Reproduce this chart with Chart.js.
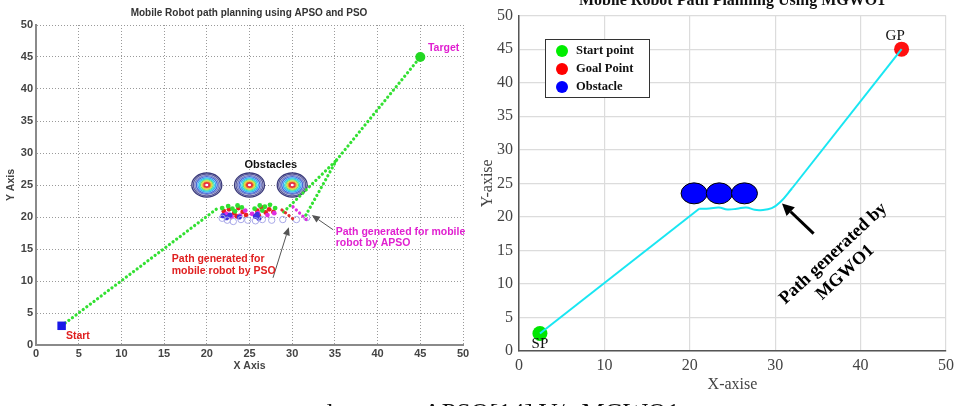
<!DOCTYPE html>
<html><head><meta charset="utf-8">
<script src="https://cdn.jsdelivr.net/npm/chart.js@4.4.1/dist/chart.umd.min.js"></script>
<style>
html,body{margin:0;padding:0;background:#fff;}
#wrap{position:relative;width:959px;height:406px;overflow:hidden;background:#fff;}
#c1{position:absolute;left:0;top:0;}
#c2{position:absolute;left:480px;top:0;}
.cap{position:absolute;top:399.5px;font-family:'Liberation Serif','Times New Roman',serif;font-size:26px;line-height:26px;color:#111;white-space:nowrap;}
</style></head>
<body>
<div id="wrap">
<canvas id="c1" width="480" height="406"></canvas>
<canvas id="c2" width="479" height="406"></canvas>
<div class="cap" style="right:626px;">and</div>
<div class="cap" style="left:423px;">APSO[14] V/s MGWO1</div>
</div>
<script>
// ================= LEFT CHART DATA (APSO and PSO) =================
const leftTitle = 'Mobile Robot path planning using APSO and PSO';
const leftXTicks = [0,5,10,15,20,25,30,35,40,45,50];
const leftYTicks = [0,5,10,15,20,25,30,35,40,45,50];
const startX = [3], startY = [3];
const targetX = [45], targetY = [45];
const leadPathX = [3, 21.4], leadPathY = [3, 21.5];
const strandAX = [29.0, 35.2], strandAY = [20.8, 28.9];
const strandBX = [31.6, 35.2], strandBY = [20.3, 28.9];
const finalPathX = [35.2, 45], finalPathY = [28.9, 45];
const psoTailX = [28.8, 30.3], psoTailY = [21.1, 19.5];
const apsoTailX = [30.1, 31.9], apsoTailY = [21.6, 19.3];
const greenCX = [21.8,22.5,23.0,23.6,24.1,25.6,26.2,26.8,27.4,28.0,23.3,26.5];
const greenCY = [21.4,21.7,21.3,21.8,21.5,21.3,21.8,21.6,21.9,21.4,20.9,21.0];
const redX = [22.0,22.6,23.2,23.7,24.2,24.6,25.9,26.4,26.9,27.3,27.8,23.5,26.1];
const redY = [20.9,21.2,20.6,21.4,20.8,20.3,21.0,21.5,20.7,21.2,20.8,20.1,20.2];
const magX = [22.3,23.9,24.5,25.3,27.1,27.9,22.9,26.0];
const magY = [20.5,20.2,21.0,20.5,20.3,20.6,20.0,20.6];
const blueX = [21.9,22.3,22.7,25.7,26.1,25.9,23.8];
const blueY = [20.2,19.9,20.3,20.1,19.8,20.4,20.0];
const lavX = [21.8,22.4,23.1,24.0,24.8,25.7,26.5,27.6,28.9,30.5,31.7];
const lavY = [19.8,19.5,19.3,19.6,19.5,19.4,19.6,19.5,19.6,19.6,19.9];
const leftObsX = [20, 25, 30], leftObsY = [25, 25, 25];
// annotation anchors (data units)
const leftLabels = [
  {text:'Obstacles', x:27.5, y:28.1, color:'#111', align:'center'},
  {text:'Start', x:3.5, y:1.4, color:'#e02020', align:'left'},
  {text:'Target', x:45.9, y:46.4, color:'#e020d0', align:'left'},
  {text:'Path generated for', x:15.9, y:13.4, color:'#e02020', align:'left'},
  {text:'mobile robot by PSO', x:15.9, y:11.6, color:'#e02020', align:'left'},
  {text:'Path generated for mobile', x:35.1, y:17.7, color:'#e020d0', align:'left'},
  {text:'robot by APSO', x:35.1, y:15.9, color:'#e020d0', align:'left'}
];
const leftArrows = [
  {x1:27.75, y1:10.5, x2:29.6, y2:18.4},
  {x1:34.8, y1:18.0, x2:32.3, y2:20.3}
];

// ================= RIGHT CHART DATA (MGWO1) =================
const rightTitle = 'Mobile Robot Path Planning Using MGWO1';
const rightXTicks = [0,10,20,30,40,50];
const rightYTicks = [0,5,10,15,20,25,30,35,40,45,50];
const spX = [2.45], spY = [2.6];
const gpX = [44.8], gpY = [45];
const seg1X = [2.45, 21.1], seg1Y = [2.6, 21.2];
const waveX = [21.1,22.3,23.4,24.4,25.5,26.6,27.6,28.3,29.6,30.6,32.0];
const waveY = [21.2,21.25,21.4,21.1,21.2,21.4,21.05,21.0,21.3,22.2,24.3];
const seg3X = [32.0, 44.8], seg3Y = [24.3, 45];
const rObsX = [20.5, 23.45, 26.4], rObsY = [23.5, 23.5, 23.5];
const legendLabels = ['Start point','Goal Point','Obstacle'];
const legendColors = ['#00ee00','#ff0000','#0000ff'];
const rightLabels = [
  {text:'GP', x:44.05, y:47.0},
  {text:'SP', x:2.45, y:1.1}
];
const rightArrow = {x1:34.5, y1:17.5, x2:30.8, y2:22.0};
const rotLabel = [{text:'Path generated by', x:36.8, y:14.5},{text:'MGWO1', x:38.2, y:11.7}];

// ================= helpers =================
const zip = (xs, ys) => xs.map((x,i)=>({x:x, y:ys[i]}));
function fixedTicks(vals){ return function(scale){ scale.ticks = vals.map(v=>({value:v})); }; }
function drawArrow(ctx,x1,y1,x2,y2,color,w,hl,hw){
  const a = Math.atan2(y2-y1,x2-x1);
  const bx = x2 - hl*Math.cos(a), by = y2 - hl*Math.sin(a);
  ctx.save();
  ctx.strokeStyle=color; ctx.fillStyle=color; ctx.lineWidth=w;
  ctx.beginPath(); ctx.moveTo(x1,y1); ctx.lineTo(bx,by); ctx.stroke();
  ctx.beginPath(); ctx.moveTo(x2,y2);
  ctx.lineTo(bx + hw*Math.sin(a), by - hw*Math.cos(a));
  ctx.lineTo(bx - hw*Math.sin(a), by + hw*Math.cos(a));
  ctx.closePath(); ctx.fill();
  ctx.restore();
}
const SANS = "'Liberation Sans', Arial, sans-serif";
const SERIF = "'Liberation Serif', 'Times New Roman', serif";

function dotted(xs, ys, color){
  return {type:'line', data:zip(xs,ys), borderColor:color, borderWidth:3.2, borderDash:[0.1,4.4],
    borderCapStyle:'round', pointRadius:0, fill:false, tension:0, showLine:true};
}
function pts(xs, ys, color, r, opts){
  return Object.assign({type:'scatter', data:zip(xs,ys), backgroundColor:color, borderColor:color,
    pointRadius:r, pointBorderWidth:0, showLine:false}, opts||{});
}

// ---------- LEFT plugin ----------
const leftDecor = {
  id:'leftDecor',
  beforeDatasetsDraw(chart){
    const ctx = chart.ctx, xs = chart.scales.x, ys = chart.scales.y;
    const rings = [
      [15,'#3a3a7a'],[13.5,'#5a5a9a'],[12,'#7b80c0'],[10.5,'#4a6ad8'],[9,'#3aa8f0'],
      [7.6,'#30d8e0'],[6.3,'#60e080'],[5.1,'#d8e040'],[4,'#f0a030'],[2.9,'#e84020'],[1.9,'#e02050']
    ];
    leftObsX.forEach((ox,i)=>{
      const cx = xs.getPixelForValue(ox), cy = ys.getPixelForValue(leftObsY[i]);
      ctx.save();
      ctx.fillStyle='#fff'; ctx.beginPath(); ctx.ellipse(cx,cy,15,12,0,0,Math.PI*2); ctx.fill();
      rings.forEach(([r,c])=>{
        ctx.strokeStyle=c; ctx.lineWidth=1.3;
        ctx.beginPath(); ctx.ellipse(cx,cy,r,r*0.8,0,0,Math.PI*2); ctx.stroke();
      });
      ctx.fillStyle='#fff'; ctx.beginPath(); ctx.ellipse(cx,cy,1.5,1.2,0,0,Math.PI*2); ctx.fill();
      ctx.restore();
    });
  },
  afterDatasetsDraw(chart){
    const ctx = chart.ctx, xs = chart.scales.x, ys = chart.scales.y;
    leftArrows.forEach(a=>{
      drawArrow(ctx, xs.getPixelForValue(a.x1), ys.getPixelForValue(a.y1),
        xs.getPixelForValue(a.x2), ys.getPixelForValue(a.y2), '#555', 1, 8, 3.5);
    });
    ctx.save();
    ctx.textBaseline='middle';
    leftLabels.forEach(l=>{
      ctx.font = (l.text==='Obstacles' ? 'bold 11px ' : 'bold 10.5px ') + SANS;
      ctx.fillStyle=l.color; ctx.textAlign=l.align;
      ctx.fillText(l.text, xs.getPixelForValue(l.x), ys.getPixelForValue(l.y));
    });
    ctx.font='bold 10px '+SANS; ctx.fillStyle='#333'; ctx.textAlign='center';
    ctx.fillText(leftTitle, 249, 13);
    ctx.restore();
  }
};

new Chart(document.getElementById('c1'), {
  type:'scatter',
  data:{datasets:[
    dotted(leadPathX, leadPathY, '#33e033'),
    dotted(psoTailX, psoTailY, '#e03030'),
    dotted(apsoTailX, apsoTailY, '#e030e0'),
    dotted(strandAX, strandAY, '#33e033'),
    dotted(strandBX, strandBY, '#33e033'),
    dotted(finalPathX, finalPathY, '#33e033'),
    pts(lavX, lavY, 'rgba(0,0,0,0)', 3.2, {borderColor:'#a8a8e8', pointBorderWidth:1}),
    pts(blueX, blueY, '#4030e0', 2.6),
    pts(magX, magY, '#e030e0', 2.4),
    pts(greenCX, greenCY, '#30e030', 2.4),
    pts(redX, redY, '#e82020', 2.4),
    pts(startX, startY, '#1818e8', 6, {pointStyle:'rect', order:-1}),
    pts(targetX, targetY, '#22d822', 5, {order:-1})
  ]},
  options:{
    responsive:false, animation:false, events:[],
    layout:{padding:{left:0, top:25, right:17, bottom:0}},
    plugins:{legend:{display:false}, tooltip:{enabled:false}, title:{display:false}},
    scales:{
      x:{type:'linear', min:0, max:50, afterBuildTicks:fixedTicks(leftXTicks),
        afterFit(s){ s.height = 61; },
        ticks:{color:'#444', font:{family:SANS, weight:'bold', size:11}, padding:2, maxRotation:0, autoSkip:false},
        grid:{color:'#9a9a9a', lineWidth:1, drawTicks:false},
        border:{display:true, color:'#8a8a8a', width:2, dash:[1,2]},
        title:{display:true, text:'X Axis', color:'#444', font:{family:SANS, weight:'bold', size:10.5}, padding:{top:0, bottom:33.7}}
      },
      y:{type:'linear', min:0, max:50, afterBuildTicks:fixedTicks(leftYTicks),
        afterFit(s){ s.width = 36; },
        ticks:{color:'#444', font:{family:SANS, weight:'bold', size:11}, padding:3, autoSkip:false},
        grid:{color:'#9a9a9a', lineWidth:1, drawTicks:false},
        border:{display:true, color:'#8a8a8a', width:2, dash:[1,2]},
        title:{display:true, text:'Y Axis', color:'#444', font:{family:SANS, weight:'bold', size:10.5}, padding:{top:5, bottom:0}}
      }
    }
  },
  plugins:[leftDecor]
});

// ---------- RIGHT plugin ----------
const rightDecor = {
  id:'rightDecor',
  afterDatasetsDraw(chart){
    const ctx = chart.ctx, xs = chart.scales.x, ys = chart.scales.y;
    ctx.save();
    rObsX.forEach((ox,i)=>{
      const cx = xs.getPixelForValue(ox), cy = ys.getPixelForValue(rObsY[i]);
      ctx.fillStyle='#0000ff'; ctx.strokeStyle='#000'; ctx.lineWidth=1;
      ctx.beginPath(); ctx.ellipse(cx,cy,13,10.5,0,0,Math.PI*2); ctx.fill(); ctx.stroke();
    });
    drawArrow(ctx, xs.getPixelForValue(rightArrow.x1), ys.getPixelForValue(rightArrow.y1),
      xs.getPixelForValue(rightArrow.x2), ys.getPixelForValue(rightArrow.y2), '#000', 3, 12, 6);
    ctx.fillStyle='#111'; ctx.font='15px '+SERIF; ctx.textAlign='center'; ctx.textBaseline='middle';
    rightLabels.forEach(l=>ctx.fillText(l.text, xs.getPixelForValue(l.x), ys.getPixelForValue(l.y)));
    // rotated annotation
    ctx.font='bold 18px '+SERIF; ctx.fillStyle='#000';
    rotLabel.forEach(l=>{
      ctx.save();
      ctx.translate(xs.getPixelForValue(l.x), ys.getPixelForValue(l.y));
      ctx.rotate(-43*Math.PI/180);
      ctx.fillText(l.text, 0, 0);
      ctx.restore();
    });
    // legend box
    ctx.fillStyle='#fff'; ctx.fillRect(65,39,104,58);
    ctx.strokeStyle='#333'; ctx.lineWidth=1; ctx.strokeRect(65.5,39.5,104,58);
    ctx.textAlign='left'; ctx.font='bold 12.5px '+SERIF;
    legendLabels.forEach((t,i)=>{
      const yy = 51 + i*18;
      ctx.fillStyle=legendColors[i]; ctx.beginPath(); ctx.arc(82,yy,6,0,Math.PI*2); ctx.fill();
      ctx.fillStyle='#111'; ctx.fillText(t, 96, yy);
    });
    // title (top partly cropped)
    ctx.font='bold 16px '+SERIF; ctx.textAlign='center'; ctx.textBaseline='alphabetic'; ctx.fillStyle='#111';
    ctx.fillText(rightTitle, 252, 5);
    ctx.restore();
  }
};

new Chart(document.getElementById('c2'), {
  type:'scatter',
  data:{datasets:[
    {type:'line', data:zip(seg1X,seg1Y), borderColor:'#19e6f2', borderWidth:2, pointRadius:0, tension:0},
    {type:'line', data:zip(waveX,waveY), borderColor:'#19e6f2', borderWidth:2, pointRadius:0, tension:0.4},
    {type:'line', data:zip(seg3X,seg3Y), borderColor:'#19e6f2', borderWidth:2, pointRadius:0, tension:0},
    pts(spX, spY, '#00e600', 7.5),
    pts(gpX, gpY, '#ff1010', 7.5)
  ]},
  options:{
    responsive:false, animation:false, events:[],
    layout:{padding:{left:0, top:13, right:11, bottom:0}},
    plugins:{legend:{display:false}, tooltip:{enabled:false}, title:{display:false}},
    scales:{
      x:{type:'linear', min:0, max:50, afterBuildTicks:fixedTicks(rightXTicks),
        afterFit(s){ s.height = 55; },
        ticks:{color:'#444', font:{family:SERIF, size:16}, padding:5, maxRotation:0, autoSkip:false},
        grid:{color:'#dcdcdc', lineWidth:1.2, drawTicks:false},
        border:{display:true, color:'#555', width:1.5},
        title:{display:true, text:'X-axise', color:'#444', font:{family:SERIF, size:16}, padding:{top:0, bottom:11.4}}
      },
      y:{type:'linear', min:0, max:50, afterBuildTicks:fixedTicks(rightYTicks),
        afterFit(s){ s.width = 39; },
        ticks:{color:'#444', font:{family:SERIF, size:16}, padding:6, autoSkip:false},
        grid:{color:'#dcdcdc', lineWidth:1.2, drawTicks:false},
        border:{display:true, color:'#555', width:1.5},
        title:{display:true, text:'Y-axise', color:'#444', font:{family:SERIF, size:16}, padding:{top:-2, bottom:0}}
      }
    }
  },
  plugins:[rightDecor]
});
</script>
</body></html>
